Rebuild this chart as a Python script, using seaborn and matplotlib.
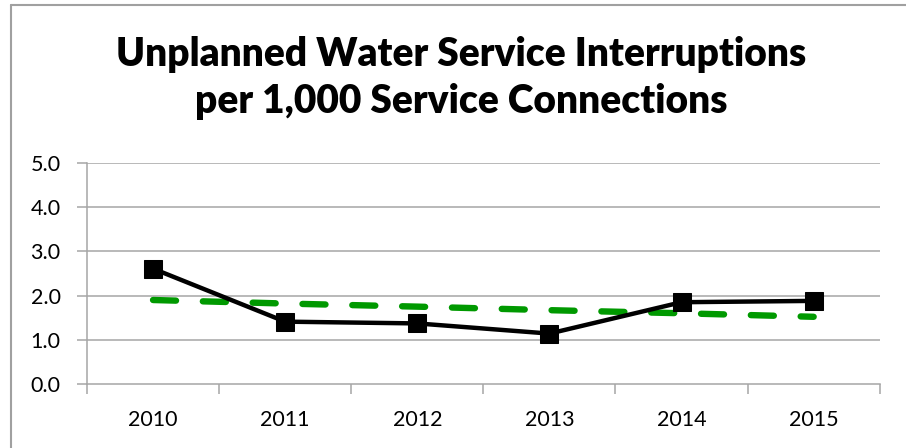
import pandas as pd
import matplotlib.pyplot as plt
import seaborn as sns
from matplotlib.lines import Line2D
from matplotlib.ticker import FixedLocator

sns.set_theme(style="white")
plt.rcParams['font.family'] = ['Lato', 'DejaVu Sans']
plt.rcParams['text.color'] = 'black'
plt.rcParams['xtick.color'] = 'black'
plt.rcParams['ytick.color'] = 'black'

# dades llegides del gràfic
years = ['2010', '2011', '2012', '2013', '2014', '2015']
interruptions = [2.61, 1.41, 1.37, 1.14, 1.85, 1.88]
trend = [1.90, 1.82, 1.75, 1.67, 1.60, 1.52]

df = pd.DataFrame({'Year': years, 'Rate': interruptions, 'Trend': trend})

fig = plt.figure(figsize=(9.06, 4.48), dpi=100)
ax = fig.add_axes([0.096, 0.143, 0.875, 0.493])

grid_col = '#a6a6a6'
for v in [1, 2, 3, 4, 5]:
    ax.axhline(v, color=grid_col, lw=1.1, zorder=0)

sns.lineplot(data=df, x='Year', y='Trend', ax=ax, color='#009900', lw=4.6,
             dashes=False, zorder=2, solid_capstyle='round')
ax.lines[-1].set_linestyle((0, (3.6, 4.2)))
ax.lines[-1].set_dash_capstyle('round')

sns.lineplot(data=df, x='Year', y='Rate', ax=ax, color='black', lw=3.2,
             marker='s', markersize=13, markeredgecolor='black', zorder=3)

ax.set_xlim(-0.5, 5.5)
ax.set_ylim(0, 5)
ax.set_yticks([0, 1, 2, 3, 4, 5])
ax.set_yticklabels([f"{v:.1f}" for v in [0, 1, 2, 3, 4, 5]], fontsize=15.5)
ax.set_xticks(range(len(years)))
ax.set_xticklabels(years, fontsize=15.5)
ax.xaxis.set_minor_locator(FixedLocator([i - 0.5 for i in range(len(years) + 1)]))
ax.tick_params(axis='x', which='major', length=0, pad=19)
ax.tick_params(axis='x', which='minor', length=7, width=1.1, color=grid_col, direction='out', bottom=True)
ax.tick_params(axis='y', which='major', length=7, width=1.1, color=grid_col, labelcolor='black',
               direction='out', left=True, pad=12)
ax.set_xlabel('')
ax.set_ylabel('')

for s in ['top', 'right']:
    ax.spines[s].set_visible(False)
for s in ['left', 'bottom']:
    ax.spines[s].set_color(grid_col)
    ax.spines[s].set_linewidth(1.1)

fig.text(0.509, 0.826, "Unplanned Water Service Interruptions\nper 1,000 Service Connections",
         ha='center', va='center', fontsize=28, fontweight='heavy', linespacing=1.35, color='black')

# marc exterior
fig.add_artist(Line2D([0.0125, 0.0125], [0, 0.988], color='#a0a0a0', lw=1.5, transform=fig.transFigure))
fig.add_artist(Line2D([0.0125, 1.0], [0.988, 0.988], color='#a0a0a0', lw=1.5, transform=fig.transFigure))

fig.savefig('out.png', dpi=100)
plt.close()
